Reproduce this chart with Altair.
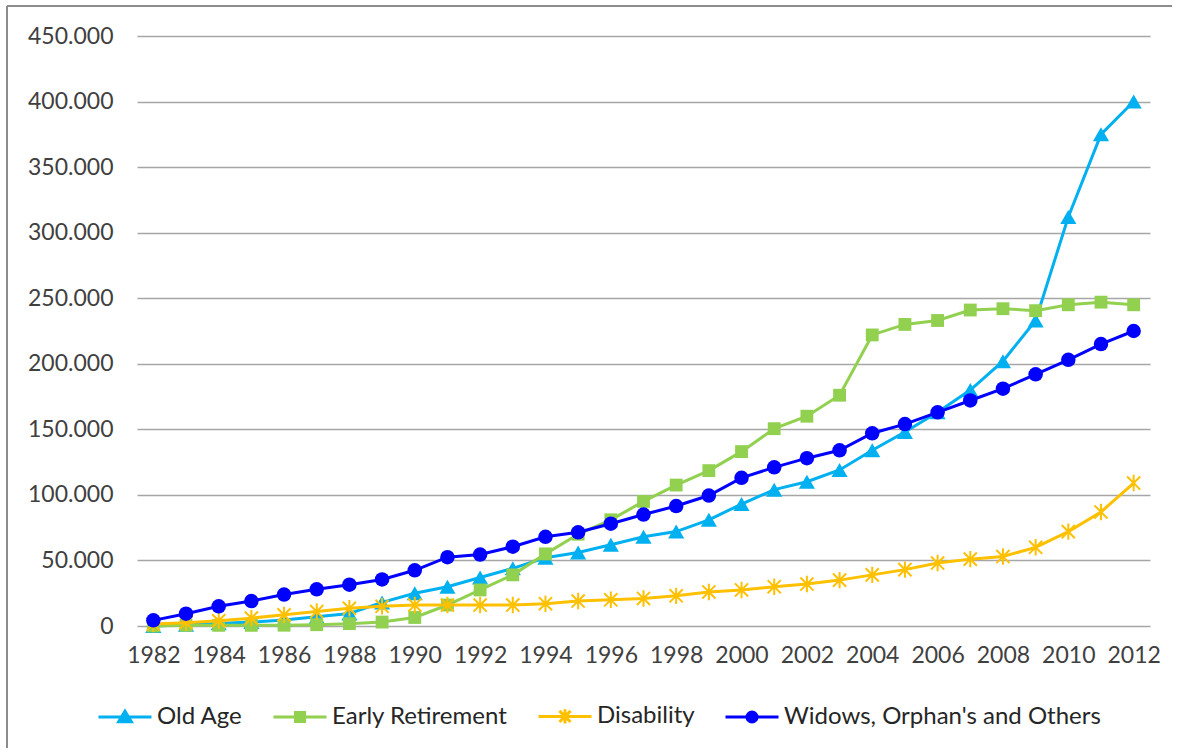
import altair as alt
import pandas as pd

# Yearly pension counts by type, 1982-2012
years = list(range(1982, 2013))
series_names = ["Old Age", "Early Retirement", "Disability", "Widows, Orphan's and Others"]

old_age = [0, 1000, 2000, 3000, 4500, 7000, 9500, 18000, 25000, 30000,
           37000, 44000, 52000, 56000, 62000, 68000, 72000, 81000, 93000, 104000,
           110000, 119000, 134000, 148000, 163000, 180000, 202000, 233000, 312000, 375000, 400000]
early_retirement = [0, 500, 500, 500, 600, 1000, 1800, 3000, 6500, 16000,
                    27500, 39000, 55000, 70000, 81000, 95000, 107500, 118500, 133000, 150500,
                    160000, 176000, 222000, 230000, 233000, 241000, 242000, 240500, 245000, 247000, 245000]
disability = [1500, 2500, 4000, 6000, 8500, 11000, 13500, 15000, 16000, 16000,
              16000, 16000, 17000, 19000, 20000, 21000, 23000, 26000, 27500, 30000,
              32000, 35000, 39000, 43000, 48000, 51000, 53000, 60000, 72000, 87000, 109000]
widows = [4300, 9400, 15000, 19000, 24000, 28000, 31500, 35500, 42500, 52500,
          54500, 60500, 68000, 71500, 78000, 85000, 91500, 99500, 113000, 121000,
          128000, 134000, 147000, 154000, 163000, 172000, 181000, 192000, 203000, 215000, 225000]

y_ticks = list(range(0, 450001, 50000))
x_ticks = list(range(1982, 2013, 2))

colors = ["#00b0f0", "#92d050", "#ffc000", "#0000ff"]

values = [old_age, early_retirement, disability, widows]
df = pd.DataFrame(
    [{"year": y, "value": v, "series": name}
     for name, vals in zip(series_names, values)
     for y, v in zip(years, vals)]
)

FONT = "Lato"
asterisk = "M0,-1V1M-0.8,-0.8L0.8,0.8M-0.8,0.8L0.8,-0.8"
markers = [
    dict(shape="triangle-up", filled=True, size=260),
    dict(shape="square", filled=True, size=165),
    dict(shape=asterisk, filled=False, size=270, strokeWidth=2),
    dict(shape="circle", filled=True, size=210),
]

# Legend symbols: a line segment with the series marker in the middle
legend_paths = [
    "M-1,0H1M0,-0.22L0.24,0.18L-0.24,0.18Z",
    "M-1,0H1M-0.17,-0.17H0.17V0.17H-0.17Z",
    "M-1,0H1M0,-0.27V0.27M-0.21,-0.21L0.21,0.21M-0.21,0.21L0.21,-0.21",
    "M-1,0H1M0.19,0A0.19,0.19 0 1,1 -0.19,0A0.19,0.19 0 1,1 0.19,0Z",
]

x_enc = alt.X("year:Q",
              scale=alt.Scale(domain=[1981.5, 2012.5], nice=False, zero=False),
              axis=alt.Axis(values=x_ticks, format="d", grid=False, domain=False,
                            ticks=False, labelPadding=18, labelFontSize=23,
                            labelFont=FONT, labelColor="#404040", title=None,
                            labelFlush=False))
y_enc = alt.Y("value:Q",
              scale=alt.Scale(domain=[0, 450000], nice=False),
              axis=alt.Axis(values=y_ticks, grid=True, domain=False, ticks=False,
                            labelPadding=24, labelFontSize=23, labelFont=FONT,
                            labelColor="#404040", gridColor="#a6a6a6", gridWidth=1.4,
                            title=None,
                            labelExpr="datum.value == 0 ? '0' : format(datum.value / 1000, 'd') + '.000'"))

base = alt.Chart(df)
layers = []
for name, col, mk in zip(series_names, colors, markers):
    sub = base.transform_filter(alt.datum.series == name)
    layers.append(sub.mark_line(color=col, strokeWidth=3).encode(x=x_enc, y=y_enc))
    layers.append(sub.mark_point(color=col, opacity=1, **mk).encode(x=x_enc, y=y_enc))

legend_props = dict(
    title=None, orient="none", legendX=-40, legendY=652, direction="horizontal",
    symbolSize=2809, symbolStrokeWidth=3, labelFont=FONT, labelFontSize=24,
    labelColor="#262626", columnPadding=24, labelOffset=4, padding=0,
    labelLimit=500,
)
legend_layer = base.transform_filter("false").mark_point(filled=True, opacity=1, strokeWidth=3).encode(
    x=x_enc, y=y_enc,
    color=alt.Color("series:N", scale=alt.Scale(domain=series_names, range=colors),
                    legend=alt.Legend(**legend_props)),
    stroke=alt.Stroke("series:N", scale=alt.Scale(domain=series_names, range=colors),
                      legend=alt.Legend(**legend_props)),
    shape=alt.Shape("series:N", scale=alt.Scale(domain=series_names, range=legend_paths),
                    legend=alt.Legend(**legend_props)),
)

# Outer frame edges (top and left)
one = pd.DataFrame({"k": [0]})
frame_top = alt.Chart(one).mark_rule(color="#8c8c8c", strokeWidth=2).encode(
    x=alt.value(-130), x2=alt.value(1035), y=alt.value(-30))
frame_left = alt.Chart(one).mark_rule(color="#8c8c8c", strokeWidth=2).encode(
    x=alt.value(-130), y=alt.value(-30), y2=alt.value(712))

chart = alt.layer(*layers, legend_layer, frame_top, frame_left).properties(
    width=1013, height=590,
    padding={"left": 6, "top": 5, "right": 5, "bottom": 5},
    background="white",
).configure_view(stroke=None)

chart.save("out.html", embed_options={"renderer": "svg", "actions": False})
